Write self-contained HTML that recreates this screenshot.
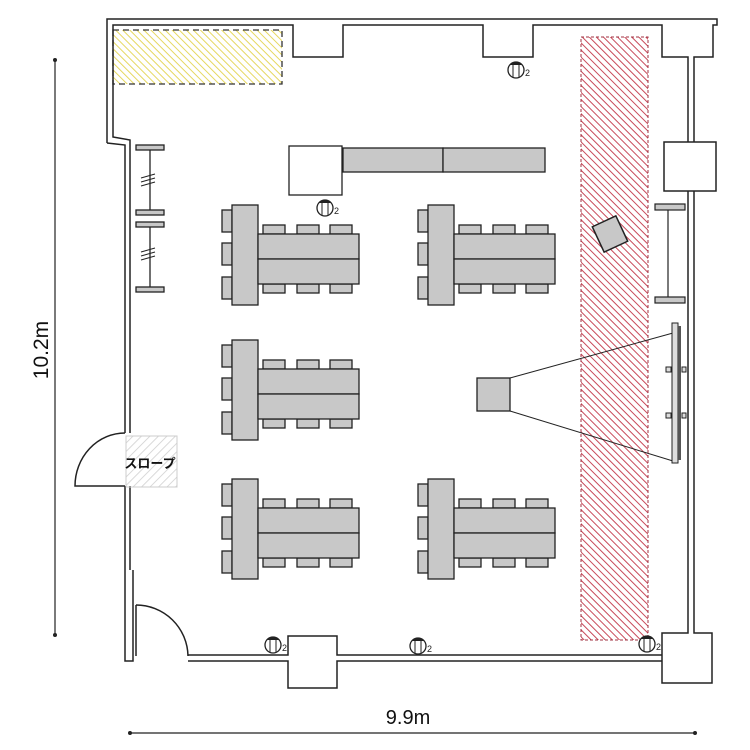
<!DOCTYPE html>
<html><head><meta charset="utf-8"><style>html,body{margin:0;padding:0;background:#fff}svg{display:block}</style></head>
<body>
<svg width="750" height="750" viewBox="0 0 750 750" xmlns="http://www.w3.org/2000/svg" font-family="Liberation Sans, Noto Sans CJK JP, sans-serif">
<defs>
<pattern id="hy" width="5" height="5" patternUnits="userSpaceOnUse" patternTransform="rotate(-45)"><line x1="0" y1="0" x2="0" y2="5" stroke="#e6d860" stroke-width="2"/></pattern>
<pattern id="hr" width="5" height="5" patternUnits="userSpaceOnUse" patternTransform="rotate(-45)"><line x1="0" y1="0" x2="0" y2="5" stroke="#c84a5a" stroke-width="2"/></pattern>
<pattern id="hg" width="6" height="6" patternUnits="userSpaceOnUse" patternTransform="rotate(45)"><line x1="0" y1="0" x2="0" y2="6" stroke="#ccc" stroke-width="1.5"/></pattern>
<g id="grp" stroke="#222" stroke-width="1.3" fill="#c8c8c8">
 <rect x="-10" y="5" width="10" height="22"/><rect x="-10" y="38" width="10" height="22"/><rect x="-10" y="72" width="10" height="22"/>
 <rect x="31" y="20" width="22" height="9"/><rect x="65" y="20" width="22" height="9"/><rect x="98" y="20" width="22" height="9"/>
 <rect x="31" y="79" width="22" height="9"/><rect x="65" y="79" width="22" height="9"/><rect x="98" y="79" width="22" height="9"/>
 <rect x="0" y="0" width="26" height="100"/>
 <rect x="26" y="29" width="101" height="25"/><rect x="26" y="54" width="101" height="25"/>
</g>
<g id="out"><circle cx="0" cy="0" r="8" fill="#fff" stroke="#222" stroke-width="1.3"/><path d="M-6,-5 A8,8 0 0 1 6,-5 Z" fill="#222"/><line x1="-3" y1="-6" x2="-3" y2="7" stroke="#222"/><line x1="3" y1="-6" x2="3" y2="7" stroke="#222"/><text x="9" y="6" font-size="9" fill="#222">2</text></g>
</defs>

<rect x="113" y="30" width="169" height="54" fill="url(#hy)" stroke="#333" stroke-dasharray="6,4" stroke-width="1.3"/>
<rect x="581" y="37" width="67" height="603" fill="url(#hr)" stroke="#a03040" stroke-dasharray="3,2" stroke-width="1"/>

<g fill="none" stroke="#222" stroke-width="1.5">
 <path d="M107,143 L107,19 L717,19 L717,25 L713,25 L713,57 L694,57 L694,142"/>
 <path d="M125,433 L125,145 L107,143"/>
 <path d="M130,433 L130,140 L113,137 L113,25 L293,25 L293,57 L343,57 L343,25 L483,25 L483,57 L533,57 L533,25 L662,25 L662,57 L688,57 L688,142"/>
 <rect x="664" y="142" width="52" height="49"/>
 <path d="M688,191 L688,633 L662,633 L662,683 L712,683 L712,633 L694,633 L694,191"/>
 <path d="M125,486 L125,661 L133,661 L133,570"/>
 <path d="M130,486 L130,570"/>
 <path d="M136,656 L136,605"/>
 <path d="M136,605 A52,52 0 0 1 188,656"/>
 <path d="M188,655 L288,655 L288,636 L337,636 L337,655 L662,655"/>
 <path d="M188,661 L288,661 L288,688 L337,688 L337,661 L662,661"/>
 <path d="M125,433 A50,53 0 0 0 75,486 L125,486"/>
</g>
<rect x="126" y="436" width="51" height="51" fill="url(#hg)" stroke="#ccc"/>
<text x="150" y="468" font-size="13" font-weight="bold" text-anchor="middle" fill="#111">スロープ</text>

<g stroke="#222" stroke-width="1.3">
 <line x1="150" y1="147" x2="150" y2="212"/><line x1="150" y1="225" x2="150" y2="289"/>
 <g fill="#c8c8c8"><rect x="136" y="145" width="28" height="5"/><rect x="136" y="210" width="28" height="5"/><rect x="136" y="222" width="28" height="5"/><rect x="136" y="287" width="28" height="5"/></g>
 <path d="M141,178 l14,-4 M141,182 l14,-4 M141,186 l14,-4 M141,252 l14,-4 M141,256 l14,-4 M141,260 l14,-4" fill="none" stroke-width="1"/>
</g>
<g stroke="#222" stroke-width="1.2" fill="#c8c8c8">
 <line x1="668" y1="205" x2="668" y2="300"/><rect x="655" y="204" width="30" height="6"/><rect x="655" y="297" width="30" height="6"/>
</g>

<rect x="289" y="146" width="53" height="49" fill="#fff" stroke="#222" stroke-width="1.3"/>
<rect x="343" y="148" width="100" height="24" fill="#c8c8c8" stroke="#222" stroke-width="1.3"/>
<rect x="443" y="148" width="102" height="24" fill="#c8c8c8" stroke="#222" stroke-width="1.3"/>

<use href="#grp" x="232" y="205"/><use href="#grp" x="428" y="205"/><use href="#grp" x="232" y="340"/><use href="#grp" x="232" y="479"/><use href="#grp" x="428" y="479"/>

<rect x="597" y="220" width="26" height="28" fill="#c8c8c8" stroke="#222" stroke-width="1.5" transform="rotate(-25 610 234)"/>

<line x1="510" y1="378" x2="673" y2="333" stroke="#222"/><line x1="510" y1="411" x2="673" y2="461" stroke="#222"/>
<rect x="477" y="378" width="33" height="33" fill="#c8c8c8" stroke="#222" stroke-width="1.3"/>
<rect x="672" y="323" width="6" height="140" fill="#ddd" stroke="#222"/><rect x="678" y="326" width="3" height="134" fill="#555"/>
<g fill="#ddd" stroke="#222" stroke-width="1"><rect x="666" y="367" width="5" height="5"/><rect x="682" y="367" width="4" height="5"/><rect x="666" y="413" width="5" height="5"/><rect x="682" y="413" width="4" height="5"/></g>

<use href="#out" x="516" y="70"/><use href="#out" x="325" y="208"/><use href="#out" x="273" y="645"/><use href="#out" x="418" y="646"/><use href="#out" x="647" y="644"/>

<g stroke="#222" stroke-width="1.2"><line x1="55" y1="60" x2="55" y2="635"/><line x1="130" y1="733" x2="695" y2="733"/></g>
<g fill="#222"><circle cx="55" cy="60" r="2"/><circle cx="55" cy="635" r="2"/><circle cx="130" cy="733" r="2"/><circle cx="695" cy="733" r="2"/></g>
<text x="48" y="350" font-size="21" text-anchor="middle" fill="#111" transform="rotate(-90 48 350)">10.2m</text>
<text x="408" y="724" font-size="20" text-anchor="middle" fill="#111">9.9m</text>
</svg>
</body></html>
